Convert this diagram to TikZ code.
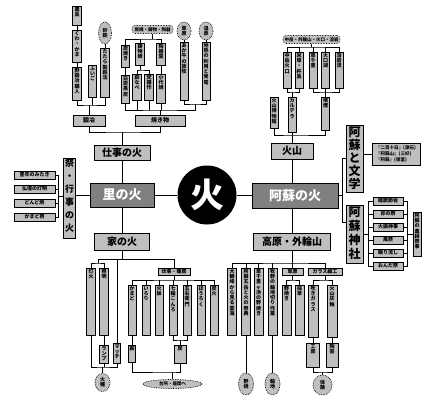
\documentclass[tikz,border=0pt]{standalone}
\usepackage{fontspec}
\setmainfont{Noto Sans CJK JP}
\usetikzlibrary{shapes.geometric}
\newcommand\fs[1]{\fontsize{#1}{#1}\selectfont}
\def\vtk{0.3pt}
\def\vtA#1{\ifx\relax#1\else\setbox0\hbox to 1em{\hss#1\hss}\ht0=.88em \dp0=.12em \box0\kern\vtk\expandafter\vtA\fi}
\newcommand\vt[2][0.3pt]{\vbox{\offinterlineskip\def\vtk{#1}\vtA#2\relax}}
\newcommand\vtt[2]{\vbox to #1{\offinterlineskip\def\vtk{0.3pt}\vtA#2\relax\vfil}}
\tikzset{
 ln/.style={line width=0.9pt},
 bx/.style={draw, line width=0.6pt, fill=black!25, inner sep=0.5pt, font=\bfseries\fs{5}},
 ov/.style={ellipse, draw, densely dotted, line width=0.7pt, fill=black!25, inner sep=0pt, font=\bfseries\fs{5}},
 rb/.style={bx, rounded corners=3pt, densely dotted, font=\bfseries\fs{4.5}},
 big/.style={bx, font=\bfseries\fs{10}},
 dk/.style={draw, line width=0.6pt, fill=black!50, text=white, inner sep=0pt, font=\bfseries\fs{13}},
}
\newcommand\vc[6][8.5]{\node[bx, minimum width=#1pt, minimum height=#5pt] (#2) at (#3,#4) {\vtt{\dimexpr#5pt-1.5pt\relax}{#6}};}
\begin{document}
\begin{tikzpicture}[x=1pt,y=-1pt]
\useasboundingbox (0,0) rectangle (422,398);
% ---- centre
\node[circle, fill=black, minimum size=59pt, inner sep=0pt, text=white, font=\bfseries\fs{34}] (fire) at (207,195) {火};
\node[dk, minimum width=64pt, minimum height=24pt] (sato) at (122,195) {里の火};
\node[dk, minimum width=86pt, minimum height=25pt] (aso) at (295,195.5) {阿蘇の火};
\draw[ln] (sato) -- (fire);
\draw[ln] (fire) -- (fire.east -| aso.west);
\node[big, minimum width=56pt, minimum height=15pt] (shigoto) at (122,152.5) {仕事の火};
\node[big, minimum width=55pt, minimum height=17pt] (ie) at (122,241.5) {家の火};
\node[big, minimum width=42pt, minimum height=16pt] (kazan) at (292,151) {火山};
\node[big, minimum width=77pt, minimum height=17pt] (kogen) at (292,241.5) {高原・外輪山};
\draw[ln] (shigoto) -- (sato);
\draw[ln] (sato) -- (ie);
\draw[ln] (kazan.south) -- (kazan.south |- aso.north);
\draw[ln] (kogen.north) -- (kogen.north |- aso.south);
% ---- festival (left)
\node[bx, minimum width=12pt, minimum height=80pt, font=\bfseries\fs{9}] (matsuri) at (69.5,198) {\vt[4pt]{祭・行事の火}};
\draw[ln] (sato.west) -- (sato.west -| matsuri.east);
\node[bx, minimum width=41pt, minimum height=8pt] (m1) at (34.5,175) {豊年のみたき};
\node[bx, minimum width=41pt, minimum height=8pt] (m2) at (34.5,189) {仏壇の灯明};
\node[bx, minimum width=41pt, minimum height=8pt] (m3) at (34.5,203) {どんど焼};
\node[bx, minimum width=41pt, minimum height=8pt] (m4) at (34.5,217) {かまど祭};
\coordinate (mb) at (58.5,196);
\draw[ln] (m1.east) -| (mb);
\draw[ln] (m4.east) -| (mb);
\draw[ln] (m2.east) -- (m2.east -| mb);
\draw[ln] (m3.east) -- (m3.east -| mb);
\draw[ln] (mb) -- (mb -| matsuri.west);
% ---- work (top left)
\node[bx, minimum width=32pt, minimum height=11pt, font=\bfseries\fs{6}] (kaji) at (89,120.5) {鍛冶};
\node[bx, minimum width=50pt, minimum height=11pt, font=\bfseries\fs{6}] (yaki) at (160,120.5) {焼き物};
\coordinate (sj) at (122,132);
\draw[ln] (shigoto.north) -- (sj);
\draw[ln] (kaji.south) |- (sj) -| (yaki.south);
\vc{A1}{77}{15.5}{19}{農具}
\vc{A2}{77}{46}{32}{くわ・かま}
\vc{A3}{77}{83.5}{33}{野鍛冶職人}
\vc{B}{92.5}{81}{32}{ふいご}
\vc{C}{105}{72.5}{49}{たたら製鉄法}
\node[ov, minimum width=13pt, minimum height=22pt] (Ce) at (105,33) {\vt{砂鉄}};
\draw[ln] (A1) -- (A2);
\draw[ln] (A2) -- (A3);
\draw[ln] (Ce) -- (C);
\coordinate (kj) at (89,105);
\draw[ln] (A3.south) |- (kj) -| (C.south);
\draw[ln] (B.south) -- (B.south |- kj);
\draw[ln] (kaji.north) -- (kj);
\node[rb, minimum width=41pt, minimum height=8pt] (T) at (152.5,29.5) {炭焼・鋳物・陶器};
\vc{D}{125.5}{56}{22}{炭焼き}
\vc{E}{140}{54}{22}{鋳物師}
\vc{F}{161}{54}{22}{陶器窯}
\coordinate (tj) at (152.5,39);
\draw[ln] (T.south) -- (tj);
\draw[ln] (D.north) |- (tj) -| (F.north);
\draw[ln] (E.north) -- (E.north |- tj);
\vc{D2}{125.5}{89}{28}{白炭黒炭}
\vc{E1}{137}{87}{26}{鉄なべ}
\vc{E2}{149}{87}{26}{梵鐘作}
\vc{F2}{161}{88.5}{29}{小代焼}
\draw[ln] (D) -- (D2);
\draw[ln] (F) -- (F2);
\coordinate (ej) at (140,70);
\draw[ln] (E.south) -- (ej);
\draw[ln] (E1.north) |- (ej) -| (E2.north);
\node[ov, minimum width=14pt, minimum height=18pt] (Ge) at (184,31) {\vt{草原}};
\node[ov, minimum width=14pt, minimum height=18pt] (He) at (206,31) {\vt{温泉}};
\vc[8]{Gb}{184}{71}{58}{あか牛の放牧}
\vc[8]{Hb}{206}{71}{58}{地熱の利用と発電}
\draw[ln] (Ge) -- (Gb);
\draw[ln] (He) -- (Hb);
\coordinate (gj) at (195,104);
\draw[ln] (Gb.south) |- (gj) -| (Hb.south);
\coordinate (yj) at (160,110);
\draw[ln] (D2.south) |- (yj) -| (gj);
\draw[ln] (E1.south) -- (E1.south |- yj);
\draw[ln] (E2.south) -- (E2.south |- yj);
\draw[ln] (F2.south) -- (F2.south |- yj);
\draw[ln] (yaki.north) -- (yaki.north |- yj);
% ---- volcano (top right)
\node[rb, minimum width=57pt, minimum height=8pt] (T2) at (311.5,39.5) {中岳・外輪山・火口・溶岩};
\vc[8]{R1}{287}{70}{36}{中岳火口}
\vc[8]{R2}{299}{70}{36}{米塚・杵島}
\vc[8]{R3}{313}{70}{36}{草千里}
\vc[8]{R4}{325.5}{70}{36}{火口湖}
\vc[8]{R5}{339}{70}{36}{溶岩流}
\coordinate (t2j) at (311.5,47);
\draw[ln] (T2.south) -- (t2j);
\draw[ln] (R1.north) |- (t2j) -| (R5.north);
\draw[ln] (R2.north) -- (R2.north |- t2j);
\draw[ln] (R3.north) -- (R3.north |- t2j);
\draw[ln] (R4.north) -- (R4.north |- t2j);
\vc[8]{haku}{274}{112.5}{31}{火山博物館}
\vc[8]{cal}{292}{114.5}{35}{カルデラ}
\vc[8]{fun}{325.5}{113.5}{33}{噴煙}
\coordinate (r12) at (292,92);
\draw[ln] (R1.south) |- (r12) -| (R2.south);
\draw[ln] (cal.north) -- (r12);
\coordinate (r35) at (325.5,92);
\draw[ln] (R3.south) |- (r35) -| (R5.south);
\draw[ln] (R4.south) -- (r35);
\draw[ln] (fun.north) -- (r35);
\coordinate (kj2) at (292,135);
\draw[ln] (haku.south) |- (kj2) -| (fun.south);
\draw[ln] (cal.south) -- (kj2);
\draw[ln] (kazan.north) -- (kj2);
% ---- literature / shrine (right)
\node[bx, minimum width=17pt, minimum height=67pt, font=\bfseries\fs{12}] (bungaku) at (354.5,158.5) {\vt[1pt]{阿蘇と文学}};
\node[bx, minimum width=17pt, minimum height=58pt, font=\bfseries\fs{12}] (jinja) at (354.5,234) {\vt[2pt]{阿蘇神社}};
\coordinate (aj2) at (342,222);
\draw[ln] (aso.east) -- (aso.east -| aj2);
\draw[ln] (bungaku.west) -| (aj2) -- (aj2 -| jinja.west);
\node[bx, minimum width=48pt, minimum height=22pt, align=left, font=\bfseries\fontsize{4.5}{6}\selectfont] (lit) at (396,154) {『二百十日』(漱石)\\『阿蘇山』(三好)\\『阿蘇』(徳富)};
\draw[ln] (lit.west -| bungaku.east) -- (lit.west);
\node[bx, minimum width=30pt, minimum height=8pt] (s1) at (388,201) {踏歌節会};
\node[bx, minimum width=30pt, minimum height=8pt] (s2) at (388,214) {卯の祭};
\node[bx, minimum width=30pt, minimum height=8pt] (s3) at (388,227) {火振神事};
\node[bx, minimum width=30pt, minimum height=8pt] (s4) at (388,240) {風祭};
\node[bx, minimum width=30pt, minimum height=8pt] (s5) at (388,253) {眠り流し};
\node[bx, minimum width=30pt, minimum height=8pt] (s6) at (388,266) {おんだ祭};
\coordinate (sl) at (368,234);
\draw[ln] (jinja.east) -- (sl);
\draw[ln] (s1.west) -| (sl);
\draw[ln] (s6.west) -| (sl);
\foreach \s in {s2,s3,s4,s5} \draw[ln] (\s.west) -- (\s.west -| sl);
\coordinate (sr) at (407.5,234);
\draw[ln] (s1.east) -| (sr);
\draw[ln] (s6.east) -| (sr);
\foreach \s in {s2,s3,s4,s5} \draw[ln] (\s.east) -- (\s.east -| sr);
\vc[8]{sv}{417}{234}{44}{阿蘇の農耕祭事}
\draw[ln] (sr) -- (sv.west);
% ---- highland (bottom right)
\coordinate (kb) at (292,263);
\draw[ln] (kogen.south) -- (kb);
\vc[9]{b1}{232}{301.5}{67}{大観峰から見る雲海}
\vc[9]{b2}{246}{301.5}{67}{阿蘇五岳と火の祭典}
\vc[9]{b3}{258.5}{301.5}{67}{草千里ヶ浜の野焼き}
\vc[9]{b4}{272.5}{301.5}{67}{牧野の輪地切り作業}
\node[bx, minimum width=21pt, minimum height=7pt] (b5) at (292.5,271.5) {草原};
\node[bx, minimum width=34pt, minimum height=7pt] (b6) at (325,271.5) {ガラス細工};
\draw[ln] (b1.north) |- (kb) -| (b6.north);
\foreach \b in {b2,b3,b4,b5} \draw[ln] (\b.north) -- (\b.north |- kb);
\node[ov, minimum width=15pt, minimum height=22pt] (b2e) at (246,384) {\vt{野焼}};
\node[ov, minimum width=15pt, minimum height=22pt] (b4e) at (272.5,384) {\vt{輪地}};
\draw[ln] (b2) -- (b2e);
\draw[ln] (b4) -- (b4e);
\vc[9]{b5a}{286.5}{310}{50}{野焼き}
\vc[9]{b5b}{299.5}{310}{50}{採草}
\coordinate (b5j) at (292.5,280);
\draw[ln] (b5.south) -- (b5j);
\draw[ln] (b5a.north) |- (b5j) -| (b5b.north);
\vc[10]{b6a}{313}{311}{52}{吹きガラス}
\vc[10]{b6b}{332}{311}{52}{火山灰釉}
\coordinate (b6j) at (325,280);
\draw[ln] (b6.south) -- (b6j);
\draw[ln] (b6a.north) |- (b6j) -| (b6b.north);
\vc[13]{b6c}{313}{355}{24}{工房}
\vc[12]{b6d}{332}{355}{24}{陶芸}
\draw[ln] (b6a) -- (b6c);
\draw[ln] (b6b) -- (b6d);
\coordinate (b6k) at (322.5,372);
\draw[ln] (b6c.south) |- (b6k) -| (b6d.south);
\node[ov, minimum width=19pt, minimum height=20pt] (b6e) at (322.5,385) {\vt{体験}};
\draw[ln] (b6e.north) -- (b6k);
% ---- home (bottom left)
\coordinate (ij) at (122,259);
\coordinate (ijL) at (98,259);
\coordinate (ijR) at (174,259);
\draw[ln] (ie.south) -- (ij);
\draw[ln] (ijL) -- (ijR);
\vc{L1}{91}{301.5}{67}{灯火}
\vc{L2}{104}{301.5}{67}{照明}
\coordinate (lj) at (98,263);
\draw[ln] (ijL) -- (lj);
\draw[ln] (L1.north) |- (lj) -| (L2.north);
\vc{L2b}{104}{354}{18}{ランプ}
\vc[7]{match}{117}{353}{20}{マッチ}
\draw[ln] (L2) -- (L2b);
\coordinate (mj) at (117,259);
\draw[ln] (mj) -- (match.north);
\coordinate (lk) at (102.5,367);
\draw[ln] (L1.south) |- (lk) -| (match.south);
\draw[ln] (L2b.south) -- (L2b.south |- lk);
\node[ov, minimum width=15pt, minimum height=18pt] (Le) at (102.5,382.5) {\vt{火種}};
\draw[ln] (Le.north) -- (lk);
\node[bx, minimum width=32pt, minimum height=7pt] (kit) at (174,271.5) {炊事・暖房};
\draw[ln] (ijR) -- (kit.north);
\coordinate (kj3) at (174,280);
\draw[ln] (kit.south) -- (kj3);
\vc[8]{K1}{132}{310}{50}{かまど}
\vc[8]{K2}{146}{310}{50}{いろり}
\vc[8]{K3}{159}{310}{50}{火鉢}
\vc[8]{K4}{173}{310}{50}{七輪こんろ}
\vc[8]{K5}{187}{310}{50}{五右衛門}
\vc[8]{K6}{201}{310}{50}{ほうろく}
\vc[8]{K7}{214}{310}{50}{炭火}
\draw[ln] (K1.north) |- (kj3) -| (K7.north);
\foreach \k in {K2,K3,K4,K5,K6} \draw[ln] (\k.north) -- (\k.north |- kj3);
\vc[7]{K1b}{132}{353.5}{17}{薪}
\draw[ln] (K1) -- (K1b);
\coordinate (k45) at (180,340);
\draw[ln] (K4.south) |- (k45) -| (K5.south);
\vc[12]{K45b}{180}{354}{18}{炭}
\draw[ln] (k45) -- (K45b.north);
\coordinate (kk) at (172.5,372);
\draw[ln] (K1b.south) |- (kk) -| (K45b.south);
\node[ov, minimum width=59pt, minimum height=9pt, font=\bfseries\fs{4.5}] (Ke) at (172.5,384) {台所・居間へ};
\draw[ln] (Ke.north) -- (kk);
\end{tikzpicture}
\end{document}
